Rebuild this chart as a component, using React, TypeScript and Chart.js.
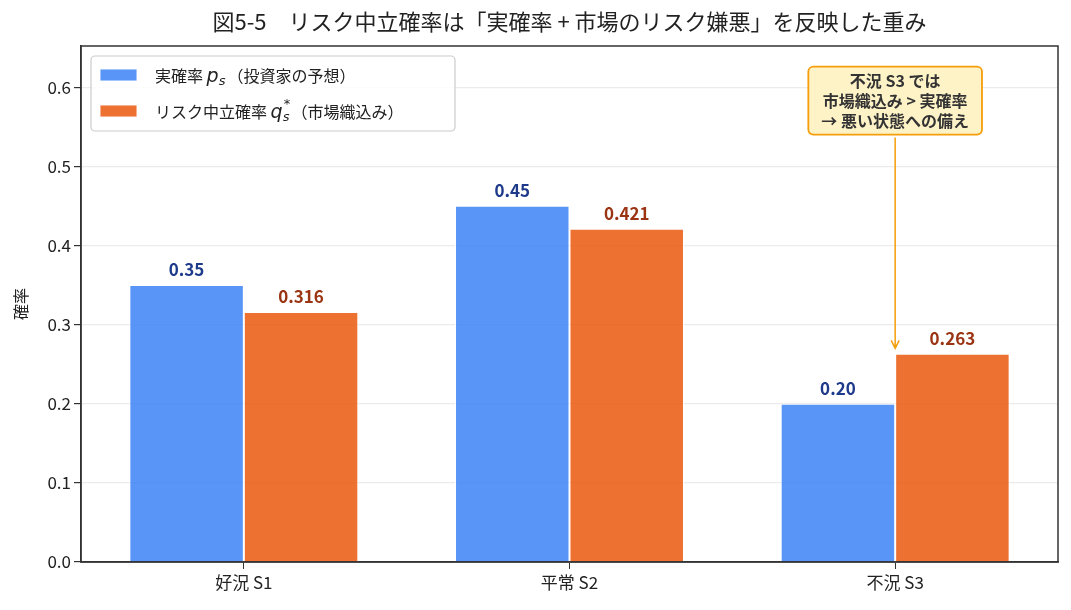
import { useEffect, useRef } from "react"
import { Chart, registerables, Plugin } from "chart.js"

Chart.register(...registerables)

const FONT = "'Noto Sans CJK JP', 'Noto Sans', 'DejaVu Sans', sans-serif"

const scenarios = ["好況 S1", "平常 S2", "不況 S3"]
const realProb = [0.35, 0.45, 0.2]
const riskNeutralProb = [0.316, 0.421, 0.263]
const yTicks = [0, 0.1, 0.2, 0.3, 0.4, 0.5, 0.6]
const titleText = "図5-5　リスク中立確率は「実確率 + 市場のリスク嫌悪」を反映した重み"
const noteLines = ["不況 S3 では", "市場織込み > 実確率", "→ 悪い状態への備え"]
const noteTarget = { index: 2, value: 0.27 }
const noteCenterValue = 0.583

const blueBar = "rgba(59, 130, 246, 0.85)"
const orangeBar = "rgba(234, 88, 12, 0.85)"
const blueText = "#1E3A8A"
const orangeText = "#9A3412"

// title, frame, legend with math-style labels, value labels, annotation
const decorations: Plugin<"bar"> = {
  id: "decorations",
  afterDatasetsDraw(chart) {
    const ctx = chart.ctx

    // bar value labels
    ctx.save()
    ctx.font = `bold 17px ${FONT}`
    ctx.textAlign = "center"
    ctx.textBaseline = "bottom"
    chart.data.datasets.forEach((ds, di) => {
      const meta = chart.getDatasetMeta(di)
      meta.data.forEach((bar, i) => {
        const v = ds.data[i] as number
        ctx.fillStyle = di === 0 ? blueText : orangeText
        ctx.fillText(di === 0 ? v.toFixed(2) : v.toFixed(3), bar.x, bar.y - 7)
      })
    })
    ctx.restore()
  },
  afterDraw(chart) {
    const ctx = chart.ctx
    const area = chart.chartArea
    const xs = chart.scales.x
    const ys = chart.scales.y

    // frame
    ctx.save()
    ctx.strokeStyle = "#333"
    ctx.lineWidth = 1.5
    ctx.strokeRect(area.left, area.top, area.right - area.left, area.bottom - area.top)
    ctx.restore()

    // title
    ctx.save()
    ctx.font = `22px ${FONT}`
    ctx.fillStyle = "#222"
    ctx.textAlign = "center"
    ctx.textBaseline = "middle"
    ctx.fillText(titleText, (area.left + area.right) / 2, 22)
    ctx.restore()

    // legend
    ctx.save()
    const lx = area.left + 10
    const ly = area.top + 10
    const lw = 364
    const lh = 75
    ctx.beginPath()
    ctx.roundRect(lx, ly, lw, lh, 4)
    ctx.fillStyle = "rgba(255,255,255,0.85)"
    ctx.fill()
    ctx.strokeStyle = "#cccccc"
    ctx.lineWidth = 1.2
    ctx.stroke()

    const rows = [
      { color: blueBar, pre: "実確率 ", sym: "p", sup: "", post: "（投資家の予想）" },
      { color: orangeBar, pre: "リスク中立確率 ", sym: "q", sup: "*", post: "（市場織込み）" },
    ]
    rows.forEach((r, i) => {
      const cy = ly + 19 + i * 36
      ctx.fillStyle = r.color
      ctx.fillRect(lx + 9, cy - 6, 37, 12)
      ctx.strokeStyle = "rgba(255,255,255,0.9)"
      ctx.lineWidth = 1
      ctx.strokeRect(lx + 9, cy - 6, 37, 12)

      ctx.fillStyle = "#222"
      ctx.textBaseline = "alphabetic"
      ctx.textAlign = "left"
      let tx = lx + 64
      const base = cy + 7
      ctx.font = `16px ${FONT}`
      ctx.fillText(r.pre, tx, base)
      tx += ctx.measureText(r.pre).width
      ctx.font = `italic 19px 'DejaVu Sans', sans-serif`
      ctx.fillText(r.sym, tx, base)
      tx += ctx.measureText(r.sym).width
      ctx.font = `italic 13px 'DejaVu Sans', sans-serif`
      ctx.fillText("s", tx, base + 3)
      if (r.sup) ctx.fillText(r.sup, tx + 1, base - 10)
      tx += ctx.measureText("s").width + 2
      ctx.font = `16px ${FONT}`
      ctx.fillText(r.post, tx, base)
    })
    ctx.restore()

    // annotation
    ctx.save()
    const ax = xs.getPixelForValue(noteTarget.index)
    const tipY = ys.getPixelForValue(noteTarget.value)
    const cy = ys.getPixelForValue(noteCenterValue)
    ctx.font = `bold 16px ${FONT}`
    const tw = Math.max(...noteLines.map((l) => ctx.measureText(l).width))
    const bw = tw + 26
    const bh = 68
    const bx = ax - bw / 2
    const by = cy - bh / 2
    ctx.beginPath()
    ctx.roundRect(bx, by, bw, bh, 5)
    ctx.fillStyle = "#FEF3C7"
    ctx.fill()
    ctx.strokeStyle = "#F59E0B"
    ctx.lineWidth = 1.8
    ctx.stroke()
    ctx.fillStyle = "#333"
    ctx.textAlign = "center"
    ctx.textBaseline = "middle"
    noteLines.forEach((l, i) => ctx.fillText(l, ax, cy + (i - 1) * 20))

    ctx.beginPath()
    ctx.moveTo(ax, by + bh + 3)
    ctx.lineTo(ax, tipY)
    ctx.moveTo(ax - 4, tipY - 8)
    ctx.lineTo(ax, tipY)
    ctx.lineTo(ax + 4, tipY - 8)
    ctx.strokeStyle = "#F59E0B"
    ctx.lineWidth = 1.5
    ctx.stroke()
    ctx.restore()
  },
}

const App = () => {
  const canvasRef = useRef<HTMLCanvasElement>(null)
  const chartRef = useRef<Chart<"bar"> | null>(null)

  useEffect(() => {
    document.body.style.margin = "0"
    if (!canvasRef.current) return
    const ctx = canvasRef.current.getContext("2d")
    if (!ctx) return
    if (chartRef.current) chartRef.current.destroy()

    chartRef.current = new Chart(ctx, {
      type: "bar",
      data: {
        labels: scenarios,
        datasets: [
          {
            label: "実確率 p_s（投資家の予想）",
            data: realProb,
            backgroundColor: blueBar,
            borderColor: "#ffffff",
            borderWidth: 1,
          },
          {
            label: "リスク中立確率 q_s*（市場織込み）",
            data: riskNeutralProb,
            backgroundColor: orangeBar,
            borderColor: "#ffffff",
            borderWidth: 1,
          },
        ],
      },
      options: {
        animation: false,
        responsive: true,
        maintainAspectRatio: false,
        datasets: {
          bar: { categoryPercentage: 0.703, barPercentage: 1.0 },
        },
        layout: { padding: { top: 46, right: 13, left: 0, bottom: 0 } },
        scales: {
          x: {
            grid: { display: true, offset: false, color: "transparent", tickColor: "#333", tickLength: 7, drawOnChartArea: false },
            border: { display: true, color: "#333", width: 1.5 },
            ticks: { color: "#222", font: { family: FONT, size: 17 }, padding: 3 },
            afterFit: (scale) => {
              scale.height = 48
            },
          },
          y: {
            min: 0,
            max: 0.652,
            afterBuildTicks: (scale) => {
              scale.ticks = yTicks.map((v) => ({ value: v }))
            },
            grid: { color: "#ebebeb", tickColor: "#333", tickLength: 7, lineWidth: 1.2 },
            border: { display: true, color: "#333", width: 1.5 },
            ticks: {
              color: "#222",
              font: { family: FONT, size: 17 },
              padding: 3,
              callback: (v) => Number(v).toFixed(1),
            },
            title: {
              display: true,
              text: "確率",
              color: "#222",
              font: { family: FONT, size: 16 },
              padding: { top: 11, bottom: 0 },
            },
            afterFit: (scale) => {
              scale.width = 81
            },
          },
        },
        plugins: {
          legend: { display: false },
          title: { display: false },
          tooltip: { enabled: false },
        },
      },
      plugins: [decorations],
    })

    return () => {
      if (chartRef.current) {
        chartRef.current.destroy()
        chartRef.current = null
      }
    }
  }, [])

  return (
    <div style={{ width: 1071, height: 610, position: "relative", background: "#fff" }}>
      <canvas ref={canvasRef}></canvas>
    </div>
  )
}

export default App
